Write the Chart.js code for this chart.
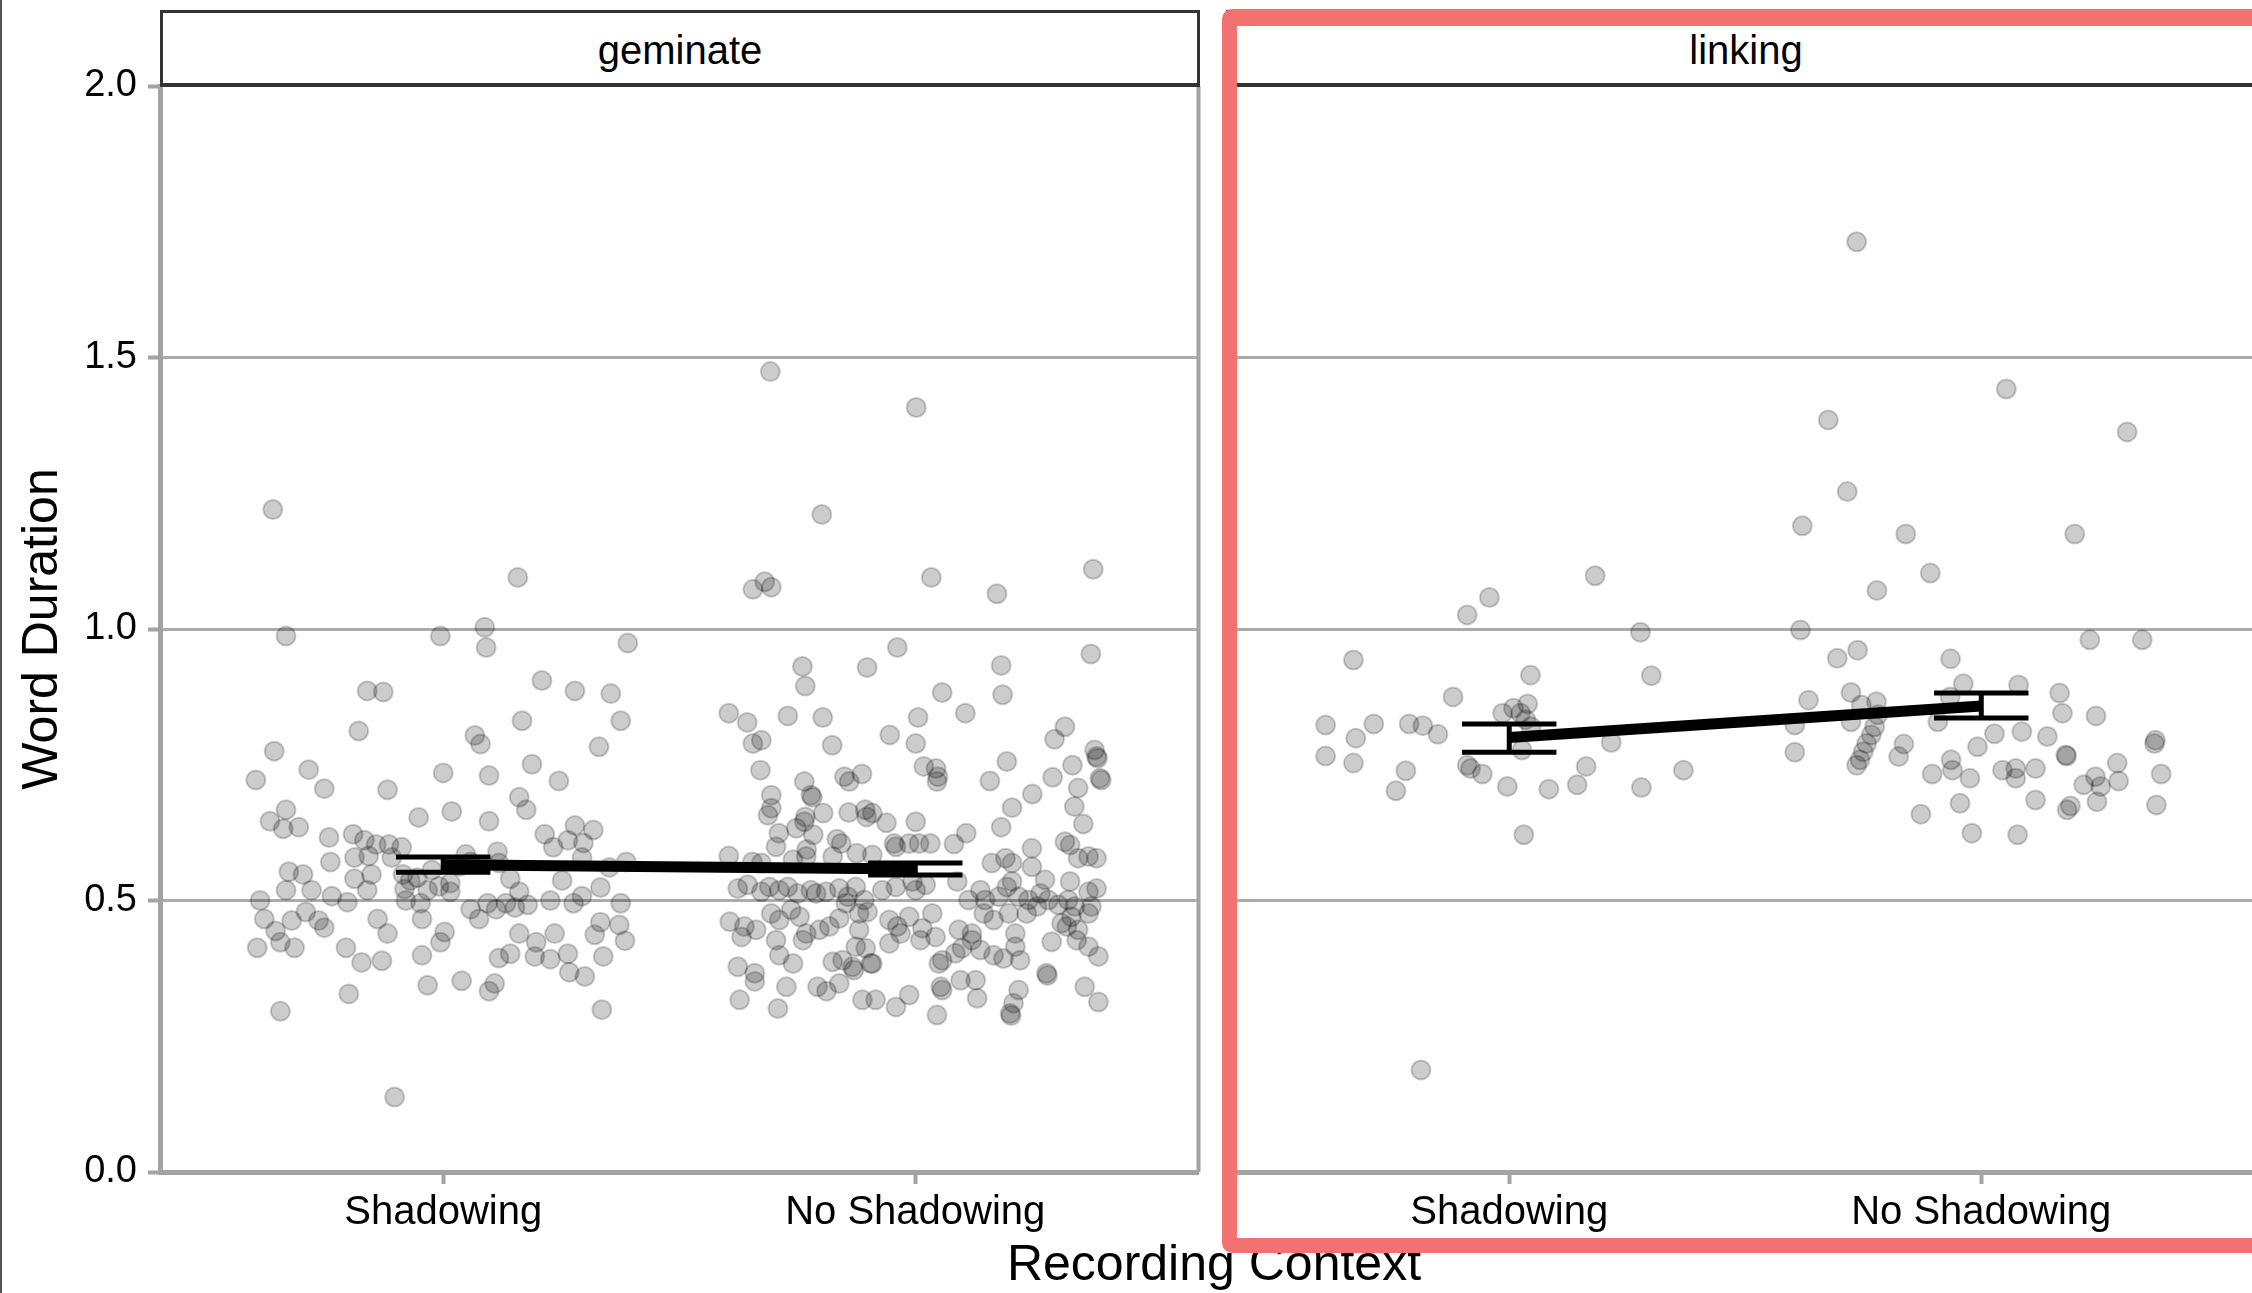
<!DOCTYPE html>
<html>
<head>
<meta charset="utf-8">
<script src="https://cdn.jsdelivr.net/npm/chart.js@4.4.1/dist/chart.umd.min.js"></script>
<style>
html,body{margin:0;padding:0;width:2252px;height:1293px;overflow:hidden;background:#fff;font-family:"Liberation Sans",Arial,Helvetica,sans-serif;}
canvas{position:absolute;top:0;}
#c1{left:0;}
#c2{left:1190px;}
.strip{position:absolute;top:10px;height:77px;box-sizing:border-box;border:3px solid #333;border-bottom-width:4px;background:#fff;display:flex;align-items:center;justify-content:center;font-size:40px;color:#000;padding-top:5px;}
#xtitle{position:absolute;left:0;width:2428px;top:1238px;text-align:center;font-size:50px;line-height:50px;color:#000;}
#redbox{position:absolute;left:1222px;top:9px;width:1100px;height:1244px;box-sizing:border-box;border:15px solid rgb(242,114,114);border-top-width:17px;border-radius:10px;}
#edge{position:absolute;left:0;top:0;width:2px;height:1293px;background:#555;}
</style>
</head>
<body>
<canvas id="c1" width="1210" height="1293"></canvas>
<canvas id="c2" width="1086" height="1293"></canvas>
<div class="strip" style="left:160px;width:1040px;">geminate</div>
<div class="strip" style="left:1226px;width:1040px;">linking</div>
<div id="xtitle">Recording Context</div>
<div id="redbox"></div>
<div id="edge"></div>
<script>
// ---------- data ----------
const categories = ['Shadowing', 'No Shadowing'];
const panelNames = ['geminate', 'linking'];
const yTickValues = [0, 0.5, 1, 1.5, 2];
const xTickValues = [1, 2];
const yTitle = 'Word Duration';

// jittered observations: [offset from category centre, word duration]
const geminateShadowing = [
[-0.361,1.220],[-0.333,0.987],[0.158,1.095],[-0.006,0.987],[0.088,1.003],[0.091,0.966],[0.391,0.974],[-0.358,0.775],[-0.397,0.722],[-0.285,0.741],
[-0.252,0.706],[-0.179,0.812],[-0.161,0.886],[-0.127,0.884],[-0.118,0.704],[0.067,0.804],[0.079,0.788],[0.209,0.905],[0.167,0.831],[0.279,0.886],
[0.330,0.783],[0.355,0.881],[0.376,0.831],[0.245,0.720],[0.188,0.751],[0.097,0.730],[0.000,0.735],[-0.052,0.653],[0.018,0.664],[0.161,0.690],
[0.176,0.667],[-0.333,0.667],[-0.367,0.646],[-0.339,0.632],[-0.306,0.635],[0.097,0.646],[0.279,0.638],[0.318,0.630],[-0.242,0.616],[-0.191,0.622],
[-0.167,0.611],[-0.142,0.603],[-0.115,0.603],[-0.158,0.582],[-0.188,0.579],[-0.239,0.571],[-0.297,0.548],[-0.327,0.553],[-0.333,0.519],[-0.279,0.519],
[-0.236,0.508],[-0.188,0.540],[-0.152,0.548],[-0.109,0.579],[-0.085,0.548],[-0.070,0.537],[-0.388,0.500],[-0.379,0.466],[-0.355,0.444],[-0.321,0.463],
[-0.394,0.413],[-0.345,0.423],[-0.315,0.413],[-0.291,0.479],[-0.264,0.463],[-0.252,0.450],[-0.203,0.497],[-0.161,0.519],[-0.139,0.466],[-0.082,0.521],
[-0.079,0.500],[-0.055,0.542],[-0.024,0.556],[-0.033,0.519],[-0.009,0.526],[0.015,0.516],[0.036,0.563],[0.058,0.571],[0.058,0.484],[0.076,0.466],
[0.094,0.495],[0.112,0.484],[0.118,0.569],[0.142,0.540],[0.161,0.516],[0.179,0.492],[0.161,0.439],[0.142,0.402],[0.118,0.394],[0.097,0.333],
[0.109,0.347],[0.039,0.352],[-0.045,0.399],[-0.006,0.423],[0.003,0.442],[-0.045,0.466],[-0.118,0.439],[-0.130,0.389],[-0.173,0.386],[-0.206,0.413],
[-0.200,0.328],[-0.345,0.296],[-0.103,0.138],[-0.033,0.344],[0.215,0.622],[0.233,0.598],[0.264,0.611],[0.297,0.606],[0.252,0.537],[0.294,0.579],
[0.294,0.508],[0.276,0.495],[0.227,0.500],[0.236,0.439],[0.264,0.402],[0.227,0.392],[0.267,0.368],[0.300,0.360],[0.336,0.299],[0.339,0.397],
[0.385,0.426],[0.373,0.455],[0.333,0.460],[0.321,0.437],[0.376,0.495],[0.333,0.524],[0.352,0.561],[0.388,0.571],[0.197,0.423],[0.194,0.397],
[0.133,0.495],[-0.088,0.598],[-0.048,0.495],[0.015,0.532],[0.048,0.585],[0.115,0.590],[0.152,0.487]
];
const geminateNoShadowing = [
[-0.307,1.474],[0.002,1.408],[-0.198,1.211],[-0.344,1.073],[-0.319,1.087],[-0.305,1.077],[0.034,1.095],[0.173,1.065],[0.377,1.110],[-0.038,0.966],
[-0.239,0.931],[-0.102,0.929],[0.182,0.933],[0.372,0.954],[-0.233,0.895],[0.057,0.883],[0.185,0.879],[-0.395,0.845],[-0.356,0.828],[-0.270,0.840],
[-0.196,0.837],[0.006,0.837],[0.106,0.845],[0.317,0.820],[0.295,0.797],[-0.054,0.805],[-0.326,0.795],[-0.344,0.789],[-0.176,0.786],[0.001,0.789],
[0.380,0.777],[-0.328,0.740],[0.018,0.747],[0.044,0.743],[0.048,0.728],[0.046,0.719],[0.194,0.756],[0.158,0.720],[0.291,0.727],[0.333,0.749],
[0.384,0.765],[0.386,0.762],[0.391,0.725],[0.394,0.722],[0.345,0.707],[-0.150,0.728],[-0.140,0.719],[-0.113,0.733],[-0.235,0.719],[-0.221,0.694],
[-0.218,0.690],[-0.305,0.694],[-0.305,0.670],[-0.312,0.657],[-0.233,0.654],[-0.235,0.645],[-0.195,0.661],[-0.141,0.662],[-0.106,0.667],[-0.103,0.654],
[-0.091,0.661],[-0.061,0.643],[0.001,0.645],[0.205,0.671],[0.248,0.696],[0.337,0.673],[0.182,0.635],[0.356,0.641],[0.317,0.608],[0.328,0.602],
[0.108,0.624],[0.082,0.604],[-0.289,0.624],[-0.252,0.633],[-0.216,0.621],[-0.295,0.599],[-0.230,0.594],[-0.166,0.613],[-0.157,0.605],[-0.124,0.587],
[-0.091,0.584],[-0.045,0.605],[-0.041,0.599],[-0.013,0.605],[0.008,0.605],[0.032,0.605],[-0.395,0.582],[-0.345,0.571],[-0.326,0.569],[-0.259,0.575],
[-0.231,0.581],[-0.175,0.581],[0.162,0.569],[0.191,0.578],[0.205,0.569],[0.247,0.596],[0.247,0.562],[0.275,0.538],[0.328,0.535],[0.367,0.581],
[0.384,0.578],[0.345,0.578],[-0.376,0.522],[-0.355,0.529],[-0.326,0.516],[-0.309,0.525],[-0.288,0.519],[-0.270,0.525],[-0.249,0.513],[-0.221,0.519],
[-0.210,0.513],[-0.189,0.516],[-0.161,0.522],[-0.143,0.507],[-0.126,0.525],[-0.108,0.501],[-0.070,0.519],[-0.041,0.525],[-0.006,0.535],[0.001,0.519],
[0.022,0.529],[0.089,0.535],[0.113,0.501],[0.138,0.519],[0.148,0.501],[0.177,0.507],[0.194,0.525],[0.205,0.535],[0.219,0.507],[0.240,0.501],
[0.265,0.513],[0.282,0.501],[0.303,0.492],[0.324,0.501],[0.338,0.489],[0.367,0.516],[0.384,0.522],[0.373,0.489],[-0.393,0.461],[-0.362,0.452],
[-0.337,0.446],[-0.305,0.476],[-0.288,0.464],[-0.263,0.483],[-0.245,0.470],[-0.231,0.439],[-0.203,0.446],[-0.182,0.452],[-0.161,0.467],[-0.147,0.495],
[-0.119,0.476],[-0.101,0.479],[-0.119,0.446],[-0.055,0.464],[-0.038,0.452],[-0.013,0.470],[0.015,0.449],[0.036,0.476],[0.092,0.446],[0.120,0.439],
[0.145,0.476],[0.166,0.464],[0.198,0.476],[0.212,0.439],[0.236,0.476],[0.258,0.489],[0.310,0.458],[0.331,0.470],[0.345,0.446],[0.367,0.476],
[-0.368,0.433],[-0.295,0.427],[-0.288,0.399],[-0.259,0.384],[-0.238,0.427],[-0.175,0.387],[-0.154,0.390],[-0.133,0.378],[-0.126,0.415],[-0.105,0.412],
[-0.094,0.384],[-0.055,0.421],[-0.031,0.439],[0.011,0.427],[0.043,0.433],[0.057,0.390],[0.085,0.403],[0.099,0.412],[0.120,0.427],[0.138,0.409],
[0.166,0.399],[0.187,0.393],[0.212,0.415],[0.222,0.390],[0.289,0.424],[0.321,0.452],[0.342,0.427],[0.367,0.415],[0.388,0.397],[-0.376,0.378],
[-0.340,0.366],[-0.340,0.351],[-0.372,0.317],[-0.291,0.301],[-0.273,0.341],[-0.207,0.341],[-0.161,0.347],[-0.188,0.333],[-0.130,0.372],[-0.112,0.317],
[-0.084,0.317],[-0.041,0.304],[-0.013,0.326],[-0.091,0.384],[0.050,0.384],[0.054,0.341],[0.057,0.335],[0.046,0.289],[0.096,0.353],[0.128,0.353],
[0.131,0.320],[0.219,0.335],[0.208,0.311],[0.201,0.292],[0.203,0.288],[0.278,0.366],[0.280,0.362],[0.359,0.341],[0.388,0.313]
];
const linkingShadowing = [
[-0.042,1.058],[-0.089,1.026],[0.278,0.994],[-0.330,0.943],[0.045,0.915],[0.301,0.914],[-0.119,0.875],[-0.014,0.845],[0.009,0.854],[0.039,0.862],
[0.024,0.845],[0.035,0.833],[0.046,0.820],[-0.389,0.823],[-0.287,0.825],[-0.212,0.825],[-0.183,0.822],[-0.151,0.806],[-0.325,0.799],[-0.389,0.766],
[-0.330,0.753],[-0.219,0.739],[-0.240,0.702],[0.027,0.777],[0.216,0.791],[-0.089,0.749],[-0.082,0.743],[-0.057,0.733],[-0.004,0.710],[0.084,0.705],
[0.144,0.713],[0.163,0.747],[0.280,0.708],[0.369,0.740],[0.031,0.621],[-0.187,0.188],[0.182,1.098]
];
const linkingNoShadowing = [
[-0.264,1.713],[0.053,1.442],[-0.324,1.385],[0.309,1.363],[-0.284,1.253],[-0.379,1.190],[-0.160,1.175],[0.198,1.175],[-0.108,1.103],[-0.221,1.071],
[-0.383,0.998],[-0.262,0.961],[-0.305,0.946],[-0.065,0.945],[0.230,0.980],[0.341,0.980],[-0.366,0.869],[-0.276,0.883],[-0.254,0.860],[-0.222,0.866],
[-0.219,0.842],[-0.226,0.820],[-0.233,0.805],[-0.243,0.789],[-0.250,0.774],[-0.257,0.759],[-0.264,0.749],[-0.395,0.823],[-0.276,0.829],[-0.395,0.773],
[-0.164,0.788],[-0.175,0.765],[-0.038,0.899],[0.079,0.897],[-0.066,0.875],[-0.092,0.829],[0.166,0.882],[0.172,0.845],[0.243,0.840],[0.028,0.807],
[0.086,0.811],[0.140,0.802],[-0.008,0.783],[0.179,0.768],[0.181,0.766],[0.369,0.795],[0.367,0.789],[-0.104,0.733],[-0.064,0.759],[-0.061,0.740],
[-0.024,0.725],[0.045,0.740],[0.073,0.743],[0.073,0.725],[0.115,0.743],[0.288,0.753],[0.291,0.720],[0.242,0.728],[0.253,0.710],[0.217,0.713],
[0.381,0.733],[-0.128,0.659],[-0.045,0.679],[0.115,0.685],[0.182,0.667],[0.189,0.674],[0.245,0.682],[0.371,0.676],[-0.020,0.624],[0.077,0.621]
];

// means and error-bar limits per category [Shadowing, No Shadowing]
const geminateMeans  = [0.566, 0.558];
const geminateLow    = [0.552, 0.547];
const geminateHigh   = [0.580, 0.569];
const linkingMeans   = [0.800, 0.858];
const linkingLow     = [0.773, 0.836];
const linkingHigh    = [0.825, 0.882];

// ---------- style ----------
const FONT = '"Liberation Sans", Arial, Helvetica, sans-serif';
const GRID = '#ababab';
const AXIS = '#a3a3a3';
const CAP_HALF = 0.1;

function pointsFor(list, cat) { return list.map(p => ({x: cat + p[0], y: p[1]})); }
function errorBars(low, high) {
  const d = [];
  xTickValues.forEach((c, i) => {
    d.push({x: c - CAP_HALF, y: high[i]}, {x: c + CAP_HALF, y: high[i]}, {x: c, y: null},
           {x: c, y: high[i]}, {x: c, y: low[i]}, {x: c, y: null},
           {x: c - CAP_HALF, y: low[i]}, {x: c + CAP_HALF, y: low[i]}, {x: c, y: null});
  });
  return d;
}

const frame = {
  id: 'frame',
  beforeDatasetsDraw(chart) {
    const a = chart.chartArea, ctx = chart.ctx;
    ctx.save();
    ctx.strokeStyle = AXIS; ctx.lineWidth = 4;
    ctx.beginPath(); ctx.moveTo(a.right, a.top); ctx.lineTo(a.right, a.bottom); ctx.stroke();
    ctx.restore();
  }
};

function makePanel(id, shad, noshad, means, low, high, yWidth, rightPad, showY) {
  const ctx = document.getElementById(id);
  return new Chart(ctx, {
    type: 'scatter',
    data: {
      datasets: [
        { data: xTickValues.map((c, i) => ({x: c, y: means[i]})), showLine: true,
          borderColor: '#000', borderWidth: 11, pointRadius: 0, borderCapStyle: 'butt', order: 0 },
        { data: errorBars(low, high), showLine: true, spanGaps: false,
          borderColor: '#000', borderWidth: 5, pointRadius: 0, borderCapStyle: 'butt', order: 1 },
        { data: pointsFor(shad, 1).concat(pointsFor(noshad, 2)),
          pointRadius: 9.5, borderWidth: 2,
          backgroundColor: 'rgba(0,0,0,0.2)', borderColor: 'rgba(0,0,0,0.2)', order: 2 }
      ]
    },
    plugins: [frame],
    options: {
      responsive: false, animation: false, devicePixelRatio: 1, events: [],
      layout: { padding: { top: 86, right: rightPad, bottom: 0, left: 0 } },
      plugins: { legend: { display: false }, tooltip: { enabled: false } },
      scales: {
        x: {
          type: 'linear', min: 0.4, max: 2.6,
          afterBuildTicks: s => { s.ticks = xTickValues.map(v => ({value: v})); },
          afterFit: s => { s.height = 121; },
          ticks: { callback: (v, i) => categories[i], font: { family: FONT, size: 40 }, color: '#000', padding: 5, maxRotation: 0, autoSkip: false },
          grid: { drawOnChartArea: false, drawTicks: true, tickLength: 12, tickColor: AXIS, tickWidth: 4, color: AXIS },
          border: { display: true, color: AXIS, width: 5 }
        },
        y: {
          min: 0, max: 2,
          afterBuildTicks: s => { s.ticks = yTickValues.map(v => ({value: v})); },
          afterFit: s => { s.width = yWidth; },
          ticks: { display: showY, callback: v => v.toFixed(1), font: { family: FONT, size: 38 }, color: '#000', padding: 11 },
          grid: { color: c => (c.tick && (c.tick.value === 0 || c.tick.value === 2)) ? 'rgba(0,0,0,0)' : GRID,
                  lineWidth: 3, drawTicks: showY, tickLength: 12, tickColor: AXIS, tickWidth: 4 },
          border: { display: true, color: AXIS, width: 5 },
          title: { display: showY, text: yTitle, font: { family: FONT, size: 50 }, color: '#000', padding: { top: 13, bottom: 0 } }
        }
      }
    }
  });
}

makePanel('c1', geminateShadowing, geminateNoShadowing, geminateMeans, geminateLow, geminateHigh, 160, 10, true);
makePanel('c2', linkingShadowing, linkingNoShadowing, linkingMeans, linkingLow, linkingHigh, 36, 10, false);
</script>
</body>
</html>
